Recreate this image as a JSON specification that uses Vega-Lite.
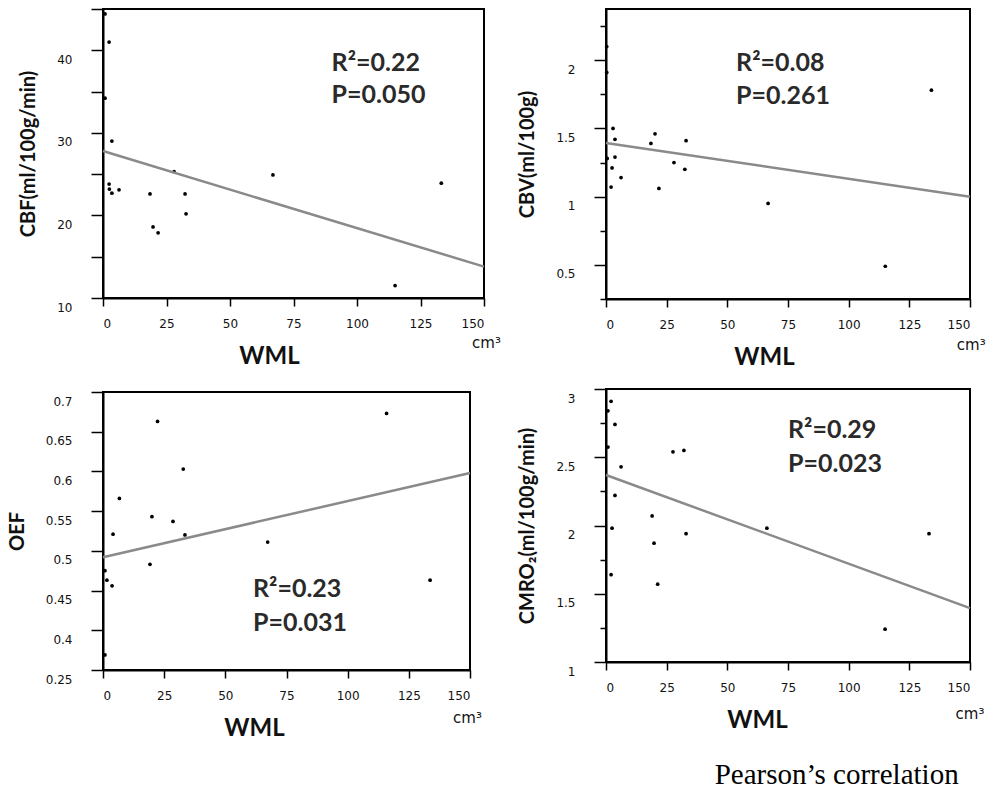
{
  "$schema": "https://vega.github.io/schema/vega-lite/v6.json",
  "background": "white",
  "padding": {"left": 6, "top": 7, "right": 5, "bottom": 0},
  "config": {
    "view": {"stroke": "black", "strokeWidth": 2},
    "axis": {
      "grid": false,
      "domainColor": "black",
      "domainWidth": 2,
      "tickColor": "black",
      "tickWidth": 1.5,
      "labelFont": "DejaVu Sans",
      "labelFontSize": 12,
      "labelColor": "#111",
      "labelOverlap": false,
      "titleFont": "Lato",
      "titleFontWeight": "bold",
      "titleColor": "#111"
    },
    "axisX": {"tickSize": 8, "labelPadding": 12, "titleFontSize": 24, "titlePadding": 15, "tickCount": 20},
    "axisY": {"tickSize": 12, "labelPadding": 19, "titleFontSize": 20, "titlePadding": 18, "labelOffset": 9, "tickCount": 20}
  },
  "datasets": {
    "cbf": [
      {"wml": 0.8, "v": 44.4}, {"wml": 2.4, "v": 41.0}, {"wml": 0.8, "v": 34.2}, {"wml": 3.5, "v": 29.0},
      {"wml": 2.4, "v": 23.8}, {"wml": 2.5, "v": 23.2}, {"wml": 3.5, "v": 22.7}, {"wml": 6.3, "v": 23.1},
      {"wml": 18.5, "v": 22.6}, {"wml": 19.7, "v": 18.6}, {"wml": 21.7, "v": 17.9}, {"wml": 28.0, "v": 25.3},
      {"wml": 32.3, "v": 22.6}, {"wml": 32.7, "v": 20.2}, {"wml": 66.9, "v": 24.9}, {"wml": 115.0, "v": 11.5},
      {"wml": 133.2, "v": 23.9}
    ],
    "cbf_fit": [{"wml": 0, "v": 27.8}, {"wml": 150, "v": 13.8}],
    "cbf_txt": [{"wml": 90, "v": 38.5, "t": "R²=0.22"}, {"wml": 90, "v": 34.6, "t": "P=0.050"}],
    "cbf_unit": [{"wml": 151, "v": 4.6, "t": "cm³"}],
    "cbv": [
      {"wml": 0.3, "v": 2.10}, {"wml": 0.3, "v": 1.91}, {"wml": 0.5, "v": 1.28}, {"wml": 2.9, "v": 1.50},
      {"wml": 3.7, "v": 1.42}, {"wml": 3.7, "v": 1.29}, {"wml": 2.5, "v": 1.21}, {"wml": 6.2, "v": 1.14},
      {"wml": 2.1, "v": 1.07}, {"wml": 18.5, "v": 1.39}, {"wml": 20.2, "v": 1.46}, {"wml": 21.8, "v": 1.06},
      {"wml": 28.0, "v": 1.25}, {"wml": 32.5, "v": 1.20}, {"wml": 33.0, "v": 1.41}, {"wml": 66.8, "v": 0.95},
      {"wml": 115.1, "v": 0.49}, {"wml": 134.1, "v": 1.78}
    ],
    "cbv_fit": [{"wml": 0, "v": 1.393}, {"wml": 150, "v": 1.0}],
    "cbv_txt": [{"wml": 53.6, "v": 1.98, "t": "R²=0.08"}, {"wml": 53.6, "v": 1.737, "t": "P=0.261"}],
    "cbv_unit": [{"wml": 150.5, "v": -0.09, "t": "cm³"}],
    "oef": [
      {"wml": 0.8, "v": 0.475}, {"wml": 1.6, "v": 0.463}, {"wml": 3.7, "v": 0.456}, {"wml": 4.1, "v": 0.521},
      {"wml": 6.7, "v": 0.566}, {"wml": 0.8, "v": 0.369}, {"wml": 19.2, "v": 0.483}, {"wml": 20.0, "v": 0.543},
      {"wml": 22.3, "v": 0.663}, {"wml": 28.6, "v": 0.537}, {"wml": 32.8, "v": 0.603}, {"wml": 33.5, "v": 0.520},
      {"wml": 67.3, "v": 0.511}, {"wml": 115.9, "v": 0.673}, {"wml": 133.7, "v": 0.463}
    ],
    "oef_fit": [{"wml": 0, "v": 0.492}, {"wml": 150, "v": 0.598}],
    "oef_txt": [{"wml": 61.3, "v": 0.452, "t": "R²=0.23"}, {"wml": 61.3, "v": 0.409, "t": "P=0.031"}],
    "oef_unit": [{"wml": 149, "v": 0.29, "t": "cm³"}],
    "cmro": [
      {"wml": 2.1, "v": 2.91}, {"wml": 0.8, "v": 2.84}, {"wml": 3.7, "v": 2.74}, {"wml": 0.8, "v": 2.575},
      {"wml": 6.2, "v": 2.43}, {"wml": 3.7, "v": 2.22}, {"wml": 2.5, "v": 1.98}, {"wml": 2.1, "v": 1.64},
      {"wml": 19.0, "v": 2.07}, {"wml": 19.8, "v": 1.87}, {"wml": 21.3, "v": 1.57}, {"wml": 27.6, "v": 2.54},
      {"wml": 32.1, "v": 2.55}, {"wml": 33.0, "v": 1.94}, {"wml": 66.3, "v": 1.98}, {"wml": 115.0, "v": 1.24},
      {"wml": 133.1, "v": 1.94}
    ],
    "cmro_fit": [{"wml": 0, "v": 2.37}, {"wml": 150, "v": 1.395}],
    "cmro_txt": [{"wml": 75, "v": 2.70, "t": "R²=0.29"}, {"wml": 75, "v": 2.45, "t": "P=0.023"}],
    "cmro_unit": [{"wml": 150, "v": 0.62, "t": "cm³"}]
  },
  "title": {
    "text": "Pearson’s correlation",
    "orient": "bottom",
    "anchor": "end",
    "font": "Liberation Serif",
    "fontSize": 29,
    "fontWeight": "normal",
    "color": "black",
    "dx": -28,
    "offset": 20
  },
  "hconcat": [
    {
      "vconcat": [
        {
          "width": 381, "height": 289,
          "layer": [
            {
              "data": {"name": "cbf"},
              "mark": {"type": "circle", "color": "black", "opacity": 1, "size": 14},
              "encoding": {
                "x": {"field": "wml", "type": "quantitative", "scale": {"domain": [0, 150], "nice": false},
                      "axis": {"title": "WML", "titleX": 166, "values": [0, 25, 50, 75, 100, 125, 150]}},
                "y": {"field": "v", "type": "quantitative", "scale": {"domain": [10, 45], "nice": false, "zero": false},
                      "axis": {"title": "CBF(ml/100g/min)", "values": [10, 15, 20, 25, 30, 35, 40, 45], "tickCount": 20,
                               "labelExpr": "datum.value % 10 === 0 ? datum.label : ''"}}
              }
            },
            {
              "data": {"name": "cbf_fit"},
              "mark": {"type": "line", "color": "#8a8a8a", "strokeWidth": 2.5},
              "encoding": {"x": {"field": "wml", "type": "quantitative"}, "y": {"field": "v", "type": "quantitative"}}
            },
            {
              "data": {"name": "cbf_txt"},
              "mark": {"type": "text", "align": "left", "baseline": "middle", "font": "Lato", "fontWeight": "bold", "fontSize": 25, "color": "#2a2a2a"},
              "encoding": {"x": {"field": "wml", "type": "quantitative"}, "y": {"field": "v", "type": "quantitative"}, "text": {"field": "t"}}
            },
            {
              "data": {"name": "cbf_unit"},
              "mark": {"type": "text", "align": "center", "baseline": "middle", "font": "DejaVu Sans", "fontSize": 15, "color": "#111"},
              "encoding": {"x": {"field": "wml", "type": "quantitative"}, "y": {"field": "v", "type": "quantitative"}, "text": {"field": "t"}}
            }
          ]
        },
        {
          "width": 367, "height": 278,
          "layer": [
            {
              "data": {"name": "oef"},
              "mark": {"type": "circle", "color": "black", "opacity": 1, "size": 14},
              "encoding": {
                "x": {"field": "wml", "type": "quantitative", "scale": {"domain": [0, 150], "nice": false},
                      "axis": {"title": "WML", "titleX": 151, "values": [0, 25, 50, 75, 100, 125, 150]}},
                "y": {"field": "v", "type": "quantitative", "scale": {"domain": [0.35, 0.7], "nice": false, "zero": false},
                      "axis": {"title": "OEF", "values": [0.35, 0.4, 0.45, 0.5, 0.55, 0.6, 0.65, 0.7], "tickCount": 20,
                               "labelExpr": "abs(datum.value - 0.35) < 0.001 ? '0.25' : format(datum.value, '~g')"}}
              }
            },
            {
              "data": {"name": "oef_fit"},
              "mark": {"type": "line", "color": "#8a8a8a", "strokeWidth": 2.5},
              "encoding": {"x": {"field": "wml", "type": "quantitative"}, "y": {"field": "v", "type": "quantitative"}}
            },
            {
              "data": {"name": "oef_txt"},
              "mark": {"type": "text", "align": "left", "baseline": "middle", "font": "Lato", "fontWeight": "bold", "fontSize": 25, "color": "#2a2a2a"},
              "encoding": {"x": {"field": "wml", "type": "quantitative"}, "y": {"field": "v", "type": "quantitative"}, "text": {"field": "t"}}
            },
            {
              "data": {"name": "oef_unit"},
              "mark": {"type": "text", "align": "center", "baseline": "middle", "font": "DejaVu Sans", "fontSize": 15, "color": "#111"},
              "encoding": {"x": {"field": "wml", "type": "quantitative"}, "y": {"field": "v", "type": "quantitative"}, "text": {"field": "t"}}
            }
          ]
        }
      ],
      "spacing": 21
    },
    {
      "vconcat": [
        {
          "width": 364, "height": 290,
          "layer": [
            {
              "data": {"name": "cbv"},
              "mark": {"type": "circle", "color": "black", "opacity": 1, "size": 14},
              "encoding": {
                "x": {"field": "wml", "type": "quantitative", "scale": {"domain": [0, 150], "nice": false},
                      "axis": {"title": "WML", "titleX": 158, "values": [0, 25, 50, 75, 100, 125, 150]}},
                "y": {"field": "v", "type": "quantitative", "scale": {"domain": [0.25, 2.375], "nice": false, "zero": false},
                      "axis": {"title": "CBV(ml/100g)", "values": [0.25, 0.5, 0.75, 1, 1.25, 1.5, 1.75, 2, 2.25], "tickCount": 20,
                               "labelExpr": "abs(datum.value*2 - round(datum.value*2)) < 0.001 ? format(datum.value, '~g') : ''",
                               "tickSize": {"condition": {"test": "abs(datum.value*2 - round(datum.value*2)) < 0.001", "value": 12}, "value": 6}}}
              }
            },
            {
              "data": {"name": "cbv_fit"},
              "mark": {"type": "line", "color": "#8a8a8a", "strokeWidth": 2.5},
              "encoding": {"x": {"field": "wml", "type": "quantitative"}, "y": {"field": "v", "type": "quantitative"}}
            },
            {
              "data": {"name": "cbv_txt"},
              "mark": {"type": "text", "align": "left", "baseline": "middle", "font": "Lato", "fontWeight": "bold", "fontSize": 25, "color": "#2a2a2a"},
              "encoding": {"x": {"field": "wml", "type": "quantitative"}, "y": {"field": "v", "type": "quantitative"}, "text": {"field": "t"}}
            },
            {
              "data": {"name": "cbv_unit"},
              "mark": {"type": "text", "align": "center", "baseline": "middle", "font": "DejaVu Sans", "fontSize": 15, "color": "#111"},
              "encoding": {"x": {"field": "wml", "type": "quantitative"}, "y": {"field": "v", "type": "quantitative"}, "text": {"field": "t"}}
            }
          ]
        },
        {
          "width": 364, "height": 273,
          "layer": [
            {
              "data": {"name": "cmro"},
              "mark": {"type": "circle", "color": "black", "opacity": 1, "size": 14},
              "encoding": {
                "x": {"field": "wml", "type": "quantitative", "scale": {"domain": [0, 150], "nice": false},
                      "axis": {"title": "WML", "titleX": 151, "values": [0, 25, 50, 75, 100, 125, 150]}},
                "y": {"field": "v", "type": "quantitative", "scale": {"domain": [1, 3], "nice": false, "zero": false},
                      "axis": {"title": "CMRO₂(ml/100g/min)", "values": [1, 1.25, 1.5, 1.75, 2, 2.25, 2.5, 2.75, 3], "tickCount": 20,
                               "labelExpr": "abs(datum.value*2 - round(datum.value*2)) < 0.001 ? format(datum.value, '~g') : ''",
                               "tickSize": {"condition": {"test": "abs(datum.value*2 - round(datum.value*2)) < 0.001", "value": 12}, "value": 6}}}
              }
            },
            {
              "data": {"name": "cmro_fit"},
              "mark": {"type": "line", "color": "#8a8a8a", "strokeWidth": 2.5},
              "encoding": {"x": {"field": "wml", "type": "quantitative"}, "y": {"field": "v", "type": "quantitative"}}
            },
            {
              "data": {"name": "cmro_txt"},
              "mark": {"type": "text", "align": "left", "baseline": "middle", "font": "Lato", "fontWeight": "bold", "fontSize": 25, "color": "#2a2a2a"},
              "encoding": {"x": {"field": "wml", "type": "quantitative"}, "y": {"field": "v", "type": "quantitative"}, "text": {"field": "t"}}
            },
            {
              "data": {"name": "cmro_unit"},
              "mark": {"type": "text", "align": "center", "baseline": "middle", "font": "DejaVu Sans", "fontSize": 15, "color": "#111"},
              "encoding": {"x": {"field": "wml", "type": "quantitative"}, "y": {"field": "v", "type": "quantitative"}, "text": {"field": "t"}}
            }
          ]
        }
      ],
      "spacing": 17
    }
  ],
  "spacing": 14
}
